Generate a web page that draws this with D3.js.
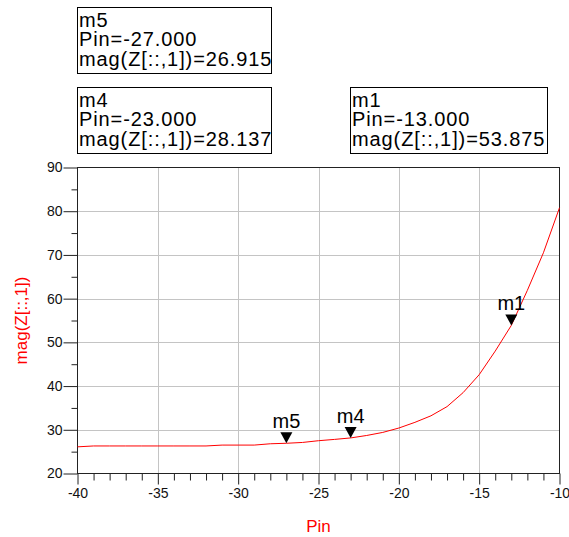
<!DOCTYPE html>
<html>
<head>
<meta charset="utf-8">
<script src="https://cdn.jsdelivr.net/npm/d3@7"></script>
<style>
  body { margin: 0; background: #fff; }
  text { font-family: Arial, "Liberation Sans", sans-serif; }
</style>
</head>
<body>
<div class="chart"></div>
<script>
var pin = [-40, -39, -38, -37, -36, -35, -34, -33, -32, -31, -30, -29, -28, -27, -26, -25,
  -24, -23, -22, -21, -20, -19, -18, -17, -16, -15, -14, -13, -12, -11, -10]
var magZ = [26.1, 26.3, 26.3, 26.3, 26.3, 26.3, 26.3, 26.3, 26.3, 26.5, 26.5, 26.5, 26.8, 26.915, 27.1, 27.5,
  27.8, 28.137, 28.7, 29.4, 30.4, 31.7, 33.2, 35.3, 38.5, 42.6, 48.0, 53.875, 61.9, 70.5, 80.8]

var markerNames = ['m5', 'm4', 'm1']
var markerPin = [-27, -23, -13]
var markerVal = [26.915, 28.137, 53.875]

var xTicks = [-40, -35, -30, -25, -20, -15, -10]
var yTicks = [20, 30, 40, 50, 60, 70, 80, 90]

var width = 569
var height = 537
var plot = {left: 77.5, right: 559.5, top: 167.5, bottom: 473.5}

var svg = d3.select('.chart')
  .append('svg')
  .attr('width', width)
  .attr('height', height)

var x = d3.scaleLinear().domain([-40, -10]).range([plot.left, plot.right])
var y = d3.scaleLinear().domain([20, 90]).range([plot.bottom, plot.top])

// plain hyphen minus like the original plot
var num = function(d) { return String(d) }

// grid
svg.selectAll('.vgrid')
  .data(xTicks.slice(1, -1))
  .enter().append('line')
  .attr('x1', function(d) { return Math.round(x(d)) + 0.5 })
  .attr('x2', function(d) { return Math.round(x(d)) + 0.5 })
  .attr('y1', plot.top).attr('y2', plot.bottom)
  .attr('stroke', '#c4c4c4')

svg.selectAll('.hgrid')
  .data(yTicks.slice(1, -1))
  .enter().append('line')
  .attr('y1', function(d) { return Math.round(y(d)) + 0.5 })
  .attr('y2', function(d) { return Math.round(y(d)) + 0.5 })
  .attr('x1', plot.left).attr('x2', plot.right)
  .attr('stroke', '#c4c4c4')

// frame
svg.append('rect')
  .attr('x', plot.left).attr('y', plot.top)
  .attr('width', plot.right - plot.left).attr('height', plot.bottom - plot.top)
  .attr('fill', 'none').attr('stroke', '#222')

// x axis ticks (major + minor every 1)
var xAxis = d3.axisBottom(x).tickValues(xTicks).tickSize(11).tickFormat(num)
var gx = svg.append('g').attr('transform', 'translate(0,' + plot.bottom + ')').call(xAxis)
gx.select('.domain').remove()
gx.selectAll('line').attr('stroke', '#222')
gx.selectAll('text').attr('font-size', 14).attr('fill', '#111').attr('y', 15).attr('dy', '0.71em')

var xMinor = d3.axisBottom(x).tickValues(d3.range(-39, -10).filter(function(d) { return d % 5 !== 0 }))
  .tickSize(7).tickFormat('')
var gxm = svg.append('g').attr('transform', 'translate(0,' + plot.bottom + ')').call(xMinor)
gxm.select('.domain').remove()
gxm.selectAll('line').attr('stroke', '#222')

// y axis ticks
var yAxis = d3.axisLeft(y).tickValues(yTicks).tickSize(14).tickFormat(num)
var gy = svg.append('g').attr('transform', 'translate(' + plot.left + ',0)').call(yAxis)
gy.select('.domain').remove()
gy.selectAll('line').attr('stroke', '#222')
gy.selectAll('text').attr('font-size', 14).attr('fill', '#111').attr('x', -15)

var yMinor = d3.axisLeft(y).tickValues([25, 35, 45, 55, 65, 75, 85]).tickSize(6).tickFormat('')
var gym = svg.append('g').attr('transform', 'translate(' + plot.left + ',0)').call(yMinor)
gym.select('.domain').remove()
gym.selectAll('line').attr('stroke', '#222')

// axis titles
svg.append('text')
  .attr('x', x(-25)).attr('y', 532)
  .attr('text-anchor', 'middle')
  .attr('font-size', 17).attr('fill', 'red')
  .text('Pin')

svg.append('text')
  .attr('transform', 'translate(27,' + y(55) + ') rotate(-90)')
  .attr('text-anchor', 'middle')
  .attr('font-size', 17).attr('fill', 'red')
  .text('mag(Z[::,1])')

// curve
var line = d3.line()
  .x(function(d, i) { return x(pin[i]) })
  .y(function(d) { return y(d) })

svg.append('path')
  .datum(magZ)
  .attr('d', line)
  .attr('fill', 'none')
  .attr('stroke', 'red')
  .attr('stroke-width', 1)

// markers on curve
var mk = svg.selectAll('.marker')
  .data(markerNames)
  .enter().append('g')
  .attr('transform', function(d, i) { return 'translate(' + x(markerPin[i]) + ',' + y(markerVal[i]) + ')' })

mk.append('path')
  .attr('d', 'M0,0 L-6,-11 L6,-11 Z')
  .attr('fill', '#000')

mk.append('text')
  .attr('y', -15)
  .attr('text-anchor', 'middle')
  .attr('font-size', 20)
  .text(function(d) { return d })

// readout boxes
var boxX = [77.5, 77.5, 350.5]
var boxY = [7.5, 87.5, 87.5]
var boxW = [194, 194, 197]

var box = svg.selectAll('.readout')
  .data(markerNames)
  .enter().append('g')
  .attr('transform', function(d, i) { return 'translate(' + boxX[i] + ',' + boxY[i] + ')' })

box.append('rect')
  .attr('width', function(d, i) { return boxW[i] })
  .attr('height', 66)
  .attr('fill', '#fff')
  .attr('stroke', '#000')

box.each(function(d, i) {
  var lines = [d, 'Pin=' + markerPin[i].toFixed(3), 'mag(Z[::,1])=' + markerVal[i].toFixed(3)]
  var t = d3.select(this).append('text')
    .attr('font-size', 20)
    .attr('letter-spacing', 0.9)
  t.selectAll('tspan')
    .data(lines)
    .enter().append('tspan')
    .attr('x', 1.5)
    .attr('y', function(s, j) { return 19 + j * 19.5 })
    .text(function(s) { return s })
})
</script>
</body>
</html>
